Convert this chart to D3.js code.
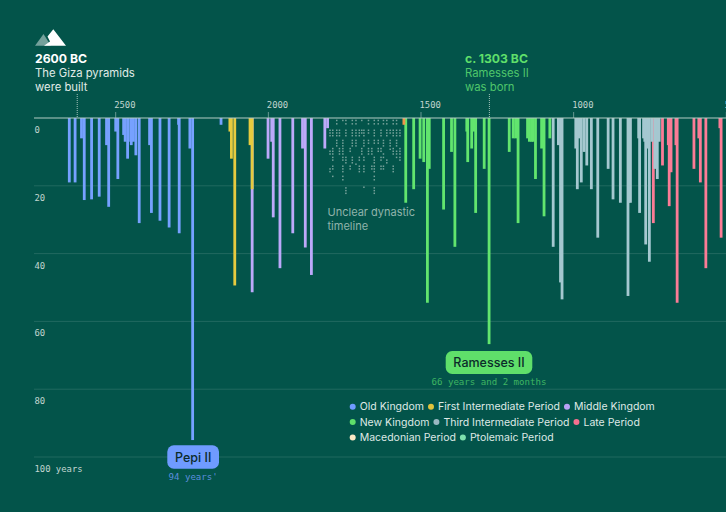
<!DOCTYPE html>
<html>
<head>
<meta charset="utf-8">
<script src="https://cdn.jsdelivr.net/npm/d3@7"></script>
<style>
  html, body { margin: 0; padding: 0; background: #03544a; }
  svg { display: block; }
  text { font-family: Inter, "Noto Sans", sans-serif; }
  .mono { font-family: "DejaVu Sans Mono", monospace; }
</style>
</head>
<body>
<div id="chart"></div>
<script>
// reign start (years BC) and reign length (years), one pair of arrays per period
var oldKingdomYears = [2652,2633,2612,2603,2579,2554,2530,2523,2500,2493,2474,2469,2461,2451,2449,2442,2434,2423,2389,2383,2355,2325,2294,2292,2257,2248,2155];
var oldKingdomReigns = [19,19,6,24.2,24,23.2,8,26.2,4,18,5,7,12,7,8,7,11,31,8,28,30.3,32.3,2,34,9,95,2];
var firstIntermediateYears = [2126,2121,2110,2060,2053];
var firstIntermediateReigns = [4,12,49.4,8,21];
var middleKingdomYears = [2053,2001,1989,1984,1962,1920,1888,1879,1859,1815,1806];
var middleKingdomReigns = [51.4,12,7,29.3,44.3,34,9,38.2,46.3,9,3];
var newKingdomYears = [1550,1524,1503,1491,1479,1473,1426,1400,1389,1350,1347,1334,1327,1321,1293,1277,1211,1198,1190,1182,1151,1145,1138,1133,1125,1105,1097,1078];
var newKingdomReigns = [25,21,12,13,54.5,15,27,10,38,4,13,9,4,28,15,66.7,10,6,6,31,6,7,7,7,18,9,29,6];
var thirdIntermediateYears = [1067,1050,1043,1038,993,988,983,975,966,957,942,921,887,871,847,822,819,814,787,784,771,767,764,758,752,744,734,726,720];
var thirdIntermediateReigns = [38,8,48.5,53.5,9,21,6,19,10,14,21,35.3,15,24,25,52.5,25,25,6,28,6,7,37.3,9,42.4,7,15,18,7];
var latePeriodYears = [739,709,690,687,681,665,661,606,590,585,567,521,517];
var latePeriodReigns = [31,14,8,26,16,8,54.5,15,6,19,44.3,3,35.3];
var otherYears = [1556];
var otherReigns = [2];

// the dots of the unclear dynastic stretch: column year, then the values in that column
var unclearYears = [1798,1789,1776,1767,1756,1746,1732,1725,1713,1702,1694,1687,1672,1661,1653,1640,1631,1623,1612,1601,1591,1580,1569];
var unclearValues = [
  [3.4,4.2,5,9.6,10.4,14.8,15.6],
  [3.4,4.2,5,8.8,9.6,10.4,11.4,12.2,14,14.8,17],
  [0.5,1.5,3.4,4.2,5,6.4,7.2,8],
  [3.4,4.2,5,8.8,9.6,10.4],
  [0.5,6.4,7.2,8,8.8,9.6,10.4,11.4,12.2,14,14.8,15.6,17,18],
  [0.5,1.5,3.4,4.2,5,11.4,12.2,13,20.4,21.2,22],
  [8.8,9.6,14,14.8],
  [0.5,1.5,3.4,4.2,5,6.4,7.2,8,11.4,12.2,13],
  [0.5,1.5,3.4,4.2,5,6.4,7.2,8,13.4],
  [3.4,4.2,5,11.4,12.2,14,14.8,15.6],
  [0.5,3.4,4.2,8.8,9.6,10.4],
  [3.4,4.2,5,6.4,7.2,8,11.4,12.2,14,14.8,15.6,20.2],
  [0.5,1.5,3.4,4.2,6.4,7.2,8.8,9.6,10.4],
  [8.8,9.6,10.4,14,14.8],
  [0.5,1.5,3.4,4.2,5,6.4,7.2,11.4,12.2,13,14,14.8,15.6,17,18,20.4,21.2,22],
  [0.5,1.5,6.4,7.2,8.8,9.6],
  [3.4,4.2,5,8.8,9.6,11.4,12.2,14,14.8],
  [0.5,1.5,6.4,7.2,8,10.4,11.4,14,14.8],
  [0.5,1.5,3.4,4.2,5,12.2,13],
  [3.4,4.2,6.4,7.2,8,9],
  [0.5,1.5,3.4,4.2,5,8.8,9.6,10.4,14,14.8,15.6],
  [0.5,1.5,3.4,4.2,5,6.4,7.2,8,9.6,10.4,11.4],
  [3.4,4.2,5,8.8,9.6,10.4,11.4,12.2]
];

var yearTicks = [2500,2000,1500,1000,500];
var valueTicks = [0,20,40,60,80,100];
var legendRows = [
  [["Old Kingdom","#6f9bff"],["First Intermediate Period","#e0c33c"],["Middle Kingdom","#b7a1f5"]],
  [["New Kingdom","#5fdf6a"],["Third Intermediate Period","#9ab8c2"],["Late Period","#f5708f"]],
  [["Macedonian Period","#fbe9c4"],["Ptolemaic Period","#7ee0ac"]]
];

var periods = [
  {years: oldKingdomYears, reigns: oldKingdomReigns, color: "#76a1ff"},
  {years: firstIntermediateYears, reigns: firstIntermediateReigns, color: "#e6cb3f"},
  {years: middleKingdomYears, reigns: middleKingdomReigns, color: "#bca9fa"},
  {years: newKingdomYears, reigns: newKingdomReigns, color: "#62e56e"},
  {years: thirdIntermediateYears, reigns: thirdIntermediateReigns, color: "#a5c8d0"},
  {years: latePeriodYears, reigns: latePeriodReigns, color: "#fb7c96"},
  {years: otherYears, reigns: otherReigns, color: "#f0954a"}
];

var svgWidth = 726;
var svgHeight = 512;
var barWidth = 2.8;

var svg = d3.select("#chart").append("svg")
            .attr("width", svgWidth)
            .attr("height", svgHeight);

svg.append("rect").attr("width", svgWidth).attr("height", svgHeight).attr("fill", "#03544a");

var xScale = d3.scaleLinear().domain([2500, 500]).range([115.7, 726.3]);
var yScale = d3.scaleLinear().domain([0, 100]).range([118, 457]);

// gridlines and value labels
svg.selectAll(".grid")
   .data(valueTicks.slice(1))
   .enter().append("line")
   .attr("x1", 34).attr("x2", svgWidth)
   .attr("y1", d => yScale(d)).attr("y2", d => yScale(d))
   .attr("stroke", "#ffffff").attr("stroke-opacity", 0.12);

svg.selectAll(".valueLabel")
   .data(valueTicks)
   .enter().append("text")
   .attr("class", "mono")
   .attr("x", 34.5)
   .attr("y", d => yScale(d) + 15)
   .attr("font-size", 8.9)
   .attr("fill", "#c2d6d0")
   .text(d => d == 100 ? "100 years" : d);

// year ticks
svg.selectAll(".yearTick")
   .data(yearTicks)
   .enter().append("line")
   .attr("x1", d => xScale(d)).attr("x2", d => xScale(d))
   .attr("y1", 112).attr("y2", 118)
   .attr("stroke", "#ffffff").attr("stroke-opacity", 0.4);

svg.selectAll(".yearLabel")
   .data(yearTicks)
   .enter().append("text")
   .attr("class", "mono")
   .attr("x", d => xScale(d) - 1.5)
   .attr("y", 108)
   .attr("font-size", 8.9)
   .attr("fill", "#c2d6d0")
   .text(d => d);

// bars, long ones first so the short ones stay visible on top
var bars = [];
periods.forEach(function(p) {
  p.years.forEach(function(y, i) {
    bars.push({year: y, reign: p.reigns[i], color: p.color});
  });
});
bars.sort((a, b) => b.reign - a.reign);

svg.selectAll(".bar")
   .data(bars)
   .enter().append("rect")
   .attr("x", d => xScale(d.year) - barWidth / 2)
   .attr("y", yScale(0))
   .attr("width", barWidth)
   .attr("height", d => yScale(d.reign) - yScale(0))
   .attr("fill", d => d.color);

// unclear stretch
unclearYears.forEach(function(year, i) {
  svg.selectAll(".dot" + i)
     .data(unclearValues[i])
     .enter().append("rect")
     .attr("x", xScale(year) - 0.75)
     .attr("y", d => yScale(d))
     .attr("width", 1.5)
     .attr("height", 1.5)
     .attr("fill", "#c4d6d0")
     .attr("fill-opacity", 0.6);
});

// zero line
svg.append("line")
   .attr("x1", 34).attr("x2", svgWidth)
   .attr("y1", yScale(0)).attr("y2", yScale(0))
   .attr("stroke", "#b4cbc4").attr("stroke-width", 1.2);

svg.selectAll(".unclearNote")
   .data(["Unclear dynastic", "timeline"])
   .enter().append("text")
   .attr("x", 327.5)
   .attr("y", (d, i) => 216 + i * 14)
   .attr("font-size", 11)
   .attr("fill", "#8fb3aa")
   .text(d => d);

// headline notes
function note(x, lineYear, lines, boldColor, color) {
  svg.append("line")
     .attr("x1", xScale(lineYear)).attr("x2", xScale(lineYear))
     .attr("y1", 94).attr("y2", 117)
     .attr("stroke", "#cfe0da").attr("stroke-dasharray", "1 1").attr("stroke-opacity", 0.8);
  lines.forEach(function(t, i) {
    svg.append("text")
       .attr("x", x)
       .attr("y", 63 + i * 14)
       .attr("font-size", i == 0 ? 12.2 : 11.3)
       .attr("font-weight", i == 0 ? 700 : 400)
       .attr("fill", i == 0 ? boldColor : color)
       .text(t);
  });
}
note(35, 2626, ["2600 BC", "The Giza pyramids", "were built"], "#ffffff", "#e0ebe7");
note(465, 1276, ["c. 1303 BC", "Ramesses II", "was born"], "#5fdf6a", "#4fc76a");

// mountain icon
svg.append("path").attr("d", "M35 45.7L43.5 34L51 45.7Z").attr("fill", "#ffffff").attr("fill-opacity", 0.45);
svg.append("path").attr("d", "M53.3 29.3L66 45.7L44 45.7L50 41.5L47.5 36.5Z").attr("fill", "#ffffff");

// callouts
function callout(x0, x1, y0, y1, color, name, sub, subColor) {
  var cx = (x0 + x1) / 2;
  svg.append("rect")
     .attr("x", x0).attr("y", y0)
     .attr("width", x1 - x0).attr("height", y1 - y0)
     .attr("rx", 6.5)
     .attr("fill", color);
  svg.append("text")
     .attr("x", cx).attr("y", (y0 + y1) / 2 + 4.5)
     .attr("text-anchor", "middle")
     .attr("font-size", 12.5)
     .attr("font-weight", 500)
     .attr("fill", "#0b2b2a")
     .text(name);
  svg.append("text")
     .attr("class", "mono")
     .attr("x", cx).attr("y", y1 + 11)
     .attr("text-anchor", "middle")
     .attr("font-size", 9.1)
     .attr("fill", subColor)
     .text(sub);
}
callout(445.7, 532.3, 351, 374, "#5fdf6a", "Ramesses II", "66 years and 2 months", "#3fb562");
callout(167.3, 219, 445.3, 468.7, "#6f9bff", "Pepi II", "94 years'", "#5c8ede");

// legend, flowed from the measured text
legendRows.forEach(function(row, r) {
  var x = 352.7;
  var y = 406.7 + r * 15.4;
  row.forEach(function(item) {
    svg.append("circle").attr("cx", x).attr("cy", y).attr("r", 3).attr("fill", item[1]);
    var label = svg.append("text")
                   .attr("x", x + 7)
                   .attr("y", y + 3.7)
                   .attr("font-size", 10.5)
                   .attr("fill", "#dfe9e6")
                   .text(item[0]);
    x += 7 + label.node().getComputedTextLength() + 7;
  });
});
</script>
</body>
</html>
